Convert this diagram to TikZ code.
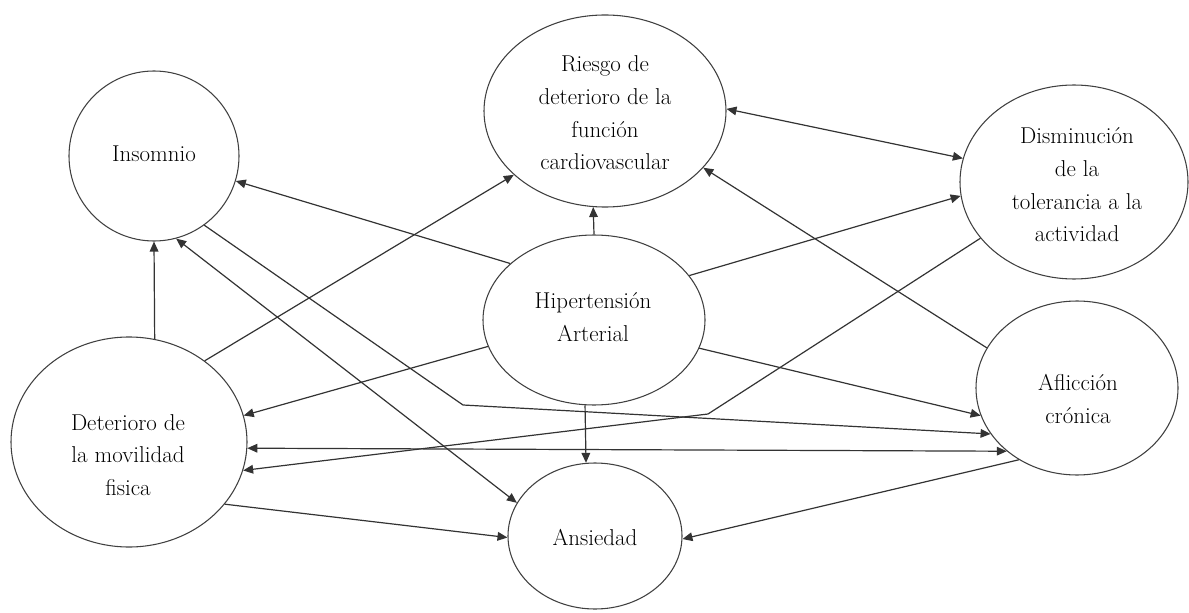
\documentclass[tikz,border=0pt]{standalone}
\usetikzlibrary{shapes.geometric,arrows.meta}
\begin{document}
\begin{tikzpicture}[x=0.75pt,y=-0.75pt,
  ell/.style={draw=black!75,line width=0.8pt,ellipse,inner sep=0pt},
  lbl/.style={align=center,font=\fontsize{17.2}{24.5}\selectfont,inner sep=0pt,text=black},
  conn/.style={draw=black!80,line width=0.9pt,-{Triangle[length=7.5pt,width=6.5pt]}},
  conntwo/.style={draw=black!80,line width=0.9pt,{Triangle[length=7.5pt,width=6.5pt]}-{Triangle[length=7.5pt,width=6.5pt]}}]
\useasboundingbox (0,0) rectangle (1189,613);
% ellipses
\node[ell,minimum width=127.5pt,minimum height=127.5pt] (ins) at (154,156) {};
\node[ell,minimum width=181.5pt,minimum height=144pt] (rie) at (605,111) {};
\node[ell,minimum width=171pt,minimum height=145.5pt] (dis) at (1074,182) {};
\node[ell,minimum width=166.5pt,minimum height=127.5pt] (hip) at (594,320) {};
\node[ell,minimum width=177pt,minimum height=157.5pt] (det) at (129,442) {};
\node[ell,minimum width=130.5pt,minimum height=109.5pt] (ans) at (595,536) {};
\node[ell,minimum width=151.5pt,minimum height=130.5pt] (afl) at (1077,388) {};
% labels
\node[lbl] (instxt) at (154,154) {Insomnio};
\node[lbl] (rietxt) at (605,113) {Riesgo de\\deterioro de la\\función\\cardiovascular};
\node[lbl] (distxt) at (1077,185) {Disminución\\de la\\tolerancia a la\\actividad};
\node[lbl] (hiptxt) at (593,317) {Hipertensión\\Arterial};
\node[lbl] (dettxt) at (128,455) {Deterioro de\\la movilidad\\fisica};
\node[lbl] (anstxt) at (595,537) {Ansiedad};
\node[lbl] (afltxt) at (1078,399) {Aflicción\\crónica};
% bend points
\coordinate (b1) at (708,414);
\coordinate (b2) at (463,405);
% connectors
\draw[conn] (hip.90) -- (rie.263.5);
\draw[conn] (hip.146) -- (ins.343.5);
\draw[conntwo] (rie.1.4) -- (dis.168.4);
\draw[conn] (hip.25.1) -- (dis.187.2);
\draw[conn] (dis.211.1) -- (b1) -- (det.346.4);
\draw[conn] (ins.306.5) -- (b2) -- (afl.208);
\draw[conntwo] (ins.285.6) -- (ans.157);
\draw[conn] (det.76.6) -- (ins.270);
\draw[conn] (det.47.2) -- (rie.215.9);
\draw[conn] (hip.194.9) -- (det.13.7);
\draw[conntwo] (det.357.8) -- (afl.222.9);
\draw[conn] (hip.264) -- (ans.97.7);
\draw[conn] (det.327.3) -- (ans.181.2);
\draw[conn] (afl.231.8) -- (ans.358.8);
\draw[conn] (hip.345.7) -- (afl.196.2);
\draw[conn] (afl.156) -- (rie.330.3);
\end{tikzpicture}
\end{document}
